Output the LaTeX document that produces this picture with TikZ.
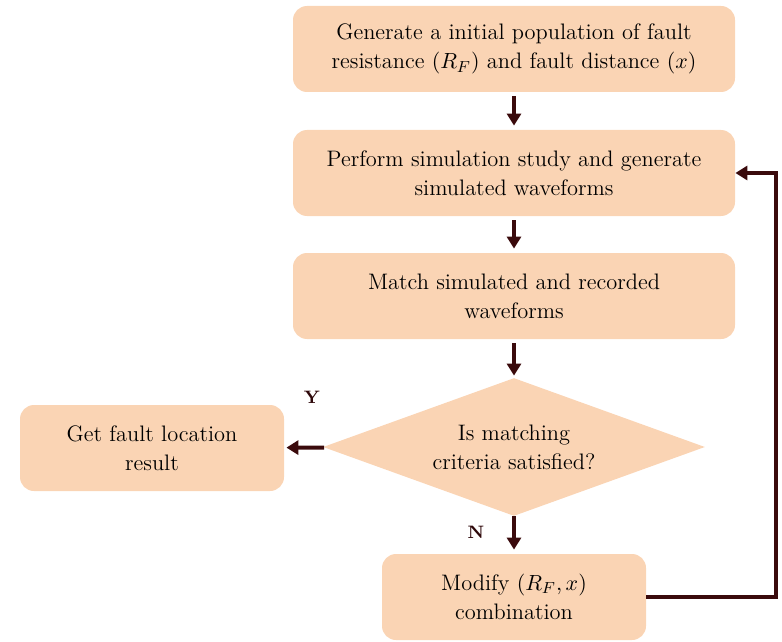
\documentclass[tikz,border=0pt]{standalone}
\usepackage{amsmath,amssymb}
\usepackage{tikz}
\usetikzlibrary{shapes.geometric,arrows.meta}

\definecolor{peach}{HTML}{FAD4B4}
\definecolor{darkbrown}{HTML}{3A0A0C}

\begin{document}
\begin{tikzpicture}[x=0.5pt, y=-0.5pt, font=\fontsize{11.2}{14.5}\selectfont,
    box/.style={rectangle, fill=peach, rounded corners=7pt, align=center, inner sep=2pt, minimum width=221pt, minimum height=43pt},
    smallbox/.style={box, minimum width=132pt},
    decision/.style={diamond, fill=peach, align=center, inner sep=0pt, aspect=2.77, minimum width=191pt, minimum height=69pt},
    flow/.style={draw=darkbrown, line width=2pt, -{Triangle[length=6pt,width=7pt]}},
    answer/.style={font=\fontsize{9}{10}\selectfont\bfseries, text=darkbrown!80!black}]
    \useasboundingbox (0,0) rectangle (782,642);

    \node (init) [box] at (514,49) {Generate a initial population of fault\\resistance $(R_F)$ and fault distance $(x)$};
    \node (sim) [box] at (514,173) {Perform simulation study and generate\\simulated waveforms};
    \node (match) [box] at (514,296) {Match simulated and recorded\\waveforms};
    \node (check) [decision] at (514,447) {Is matching\\criteria satisfied?};
    \node (result) [smallbox] at (152,448) {Get fault location\\result};
    \node (modify) [smallbox] at (514,597) {Modify $(R_F, x)$\\combination};

    \node (yes) [answer] at (312,397) {Y};
    \node (no) [answer] at (476,532) {N};
    \coordinate (loop) at (776,400);

    \draw[flow, shorten <=2pt, shorten >=2pt] (init) -- (sim);
    \draw[flow, shorten <=2pt, shorten >=2pt] (sim) -- (match);
    \draw[flow, shorten <=2pt, shorten >=1pt] (match) -- (check);
    \draw[flow, shorten >=1pt] (check) -- (result);
    \draw[flow, shorten >=2pt] (check) -- (modify);
    \draw[flow] (modify.east) -| (loop) |- (sim.east);
\end{tikzpicture}
\end{document}
